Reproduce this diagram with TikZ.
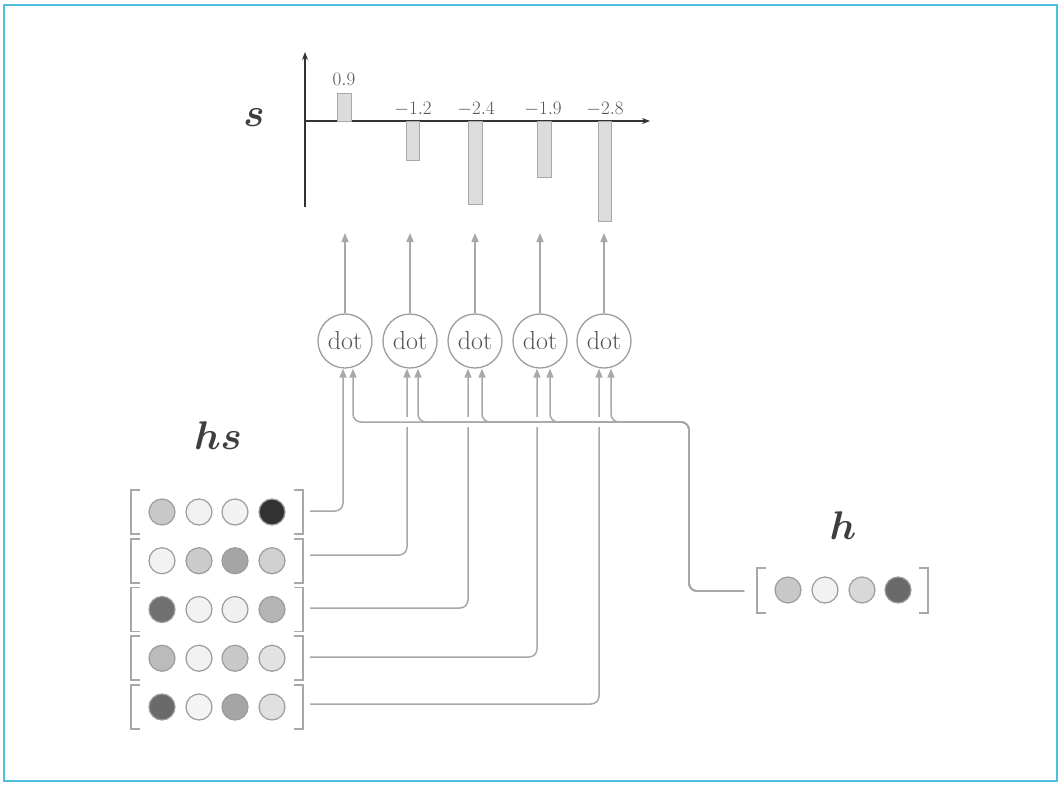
\RequirePackage{fix-cm}
\documentclass[tikz,border=0pt]{standalone}
\usepackage{amsmath}
\usetikzlibrary{arrows.meta}
\definecolor{framec}{HTML}{4EC0DE}
\definecolor{linec}{HTML}{A8A8A8}
\definecolor{circc}{HTML}{9C9C9C}
\definecolor{txtc}{HTML}{555555}
\definecolor{labc}{HTML}{3E3E3E}
\definecolor{barc}{HTML}{DCDCDC}
\definecolor{axc}{HTML}{333333}
\tikzset{
  conn/.style={draw=linec, line width=1.5pt, rounded corners=8pt, -{Triangle[length=9pt,width=7pt]}},
  dotnode/.style={circle, draw=circc, line width=1.3pt, minimum size=54pt, inner sep=0pt, text=txtc, font=\fontsize{26}{26}\selectfont},
  cell/.style={draw=circc, line width=1.2pt},
  brk/.style={draw=linec, line width=1.6pt},
  bar/.style={draw=linec, fill=barc, line width=1pt},
  val/.style={text=txtc, font=\fontsize{19}{19}\selectfont},
  biglab/.style={text=labc, font=\fontsize{40}{44}\selectfont},
  axis/.style={draw=axc, line width=1.3pt, -{Stealth[length=8pt,width=6pt]}}
}
\begin{document}
\begin{tikzpicture}[x=1pt,y=-1pt]
\useasboundingbox (0,0) rectangle (1061,785);
\fill[white] (0,0) rectangle (1061,785);
\draw[framec, line width=2.5pt] (4,5) rectangle (1057,781);

% ---- chart ----
\draw[axis] (305,207) -- (305,52);
\draw[axis] (305,121) -- (650,121);
\draw[bar] (337,93) rectangle (351,121);
\draw[bar] (406,121) rectangle (419,160);
\draw[bar] (468,121) rectangle (482,204);
\draw[bar] (537,121) rectangle (551,177);
\draw[bar] (598,121) rectangle (611,221);
\node[val] (v1) at (344,79) {$0.9$};
\node[val] (v2) at (413,109) {$-1.2$};
\node[val] (v3) at (476,109) {$-2.4$};
\node[val] (v4) at (543,109) {$-1.9$};
\node[val] (v5) at (605,109) {$-2.8$};
\node[biglab] (slab) at (254,118) {$\boldsymbol{s}$};

% ---- dot nodes ----
\node[dotnode] (d1) at (345,341) {dot};
\node[dotnode] (d2) at (410,341) {dot};
\node[dotnode] (d3) at (475,341) {dot};
\node[dotnode] (d4) at (540,341) {dot};
\node[dotnode] (d5) at (604,341) {dot};
\foreach \k/\x in {1/345,2/410,3/475,4/540,5/604}{
  \coordinate (t\k) at (\x,233);
  \draw[conn] (d\k.north) -- (t\k);
}

% ---- hs matrix ----
\node[biglab] (hslab) at (218,436) {$\boldsymbol{hs}$};
\foreach \yc/\ca/\cb/\cc/\cd in {512/C8C8C8/F2F2F2/F2F2F2/333333,
                                 560.75/F2F2F2/CCCCCC/A5A5A5/D0D0D0,
                                 609.5/707070/F2F2F2/F0F0F0/B5B5B5,
                                 658.25/BBBBBB/F2F2F2/C8C8C8/E2E2E2,
                                 707/6A6A6A/F4F4F4/A5A5A5/E0E0E0}{
  \draw[brk] (140,\yc-22) -- (131,\yc-22) -- (131,\yc+22) -- (140,\yc+22);
  \draw[brk] (294,\yc-22) -- (303,\yc-22) -- (303,\yc+22) -- (294,\yc+22);
  \definecolor{ka}{HTML}{\ca}\definecolor{kb}{HTML}{\cb}
  \definecolor{kc}{HTML}{\cc}\definecolor{kd}{HTML}{\cd}
  \draw[cell, fill=ka] (162,\yc) circle (13);
  \draw[cell, fill=kb] (199,\yc) circle (13);
  \draw[cell, fill=kc] (235,\yc) circle (13);
  \draw[cell, fill=kd] (272,\yc) circle (13);
}
\coordinate (r1) at (310,511);
\coordinate (r2) at (310,555);
\coordinate (r3) at (310,608);
\coordinate (r4) at (310,657);
\coordinate (r5) at (310,704);
\draw[conn] (r1) -| ([xshift=-2pt]d1.south);
\draw[conn] (r2) -| ([xshift=-3pt]d2.south);
\draw[conn] (r3) -| ([xshift=-7pt]d3.south);
\draw[conn] (r4) -| ([xshift=-3pt]d4.south);
\draw[conn] (r5) -| ([xshift=-5pt]d5.south);

% gaps where hs lines pass under the h line
\draw[white, line width=10pt] (362,422) -- (680,422);

% ---- h vector ----
\node[biglab] (hlab) at (843,526) {$\boldsymbol{h}$};
\draw[brk] (766,568) -- (757,568) -- (757,613) -- (766,613);
\draw[brk] (919,568) -- (928,568) -- (928,613) -- (919,613);
\definecolor{ha}{HTML}{C8C8C8}\definecolor{hb}{HTML}{F2F2F2}
\definecolor{hc}{HTML}{D8D8D8}\definecolor{hd}{HTML}{6A6A6A}
\draw[cell, fill=ha] (788,590) circle (13);
\draw[cell, fill=hb] (825,590) circle (13);
\draw[cell, fill=hc] (862,590) circle (13);
\draw[cell, fill=hd] (898,590) circle (13);
\coordinate (hw) at (744,591);
\coordinate (hx) at (689,422);
\draw[conn] (hw) -| (hx) -| ([xshift=8pt]d1.south);
\draw[conn] (hw) -| (hx) -| ([xshift=8pt]d2.south);
\draw[conn] (hw) -| (hx) -| ([xshift=7pt]d3.south);
\draw[conn] (hw) -| (hx) -| ([xshift=10pt]d4.south);
\draw[conn] (hw) -| (hx) -| ([xshift=7pt]d5.south);
\end{tikzpicture}
\end{document}
